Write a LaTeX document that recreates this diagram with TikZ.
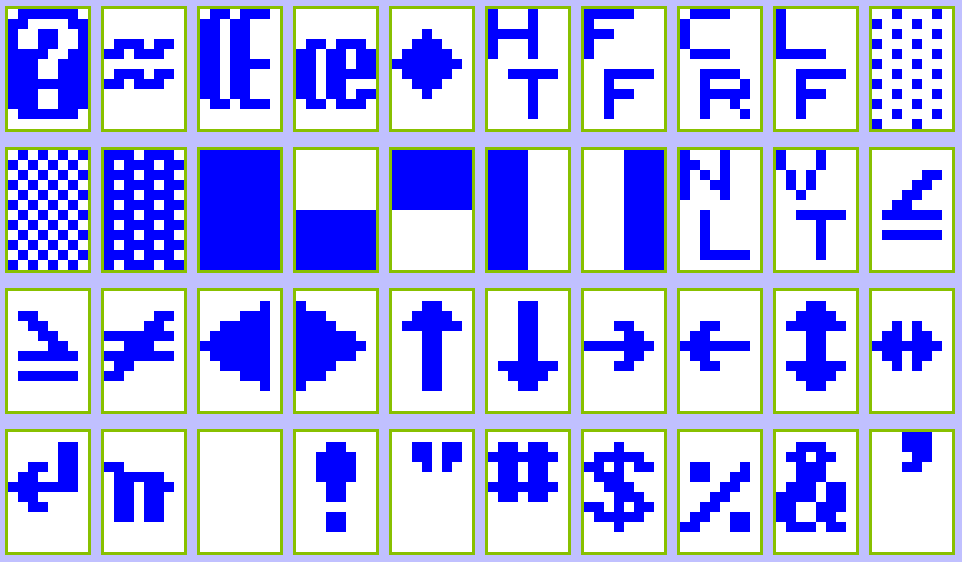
\documentclass[tikz,border=0pt]{standalone}
\definecolor{bgc}{HTML}{C0C0FF}
\definecolor{frm}{HTML}{88C000}
\definecolor{pixc}{HTML}{0000FF}
\newcount\gx \newcount\gy
\def\pixparse#1{\ifx#1\relax\else\ifnum#1=1 \fill[pixel] (\the\gx,\the\gy) rectangle ++(10,10);\fi\global\advance\gx by 10\relax\expandafter\pixparse\fi}
\newcommand\glyph[3]{%
  \fill[cellfill] ({8+96*#1},{9+141*#2}) rectangle ++(80,120);
  \draw[cellframe] ({8+96*#1-1.5},{9+141*#2-1.5}) rectangle ++(83,123);
  \foreach \s [count=\k from 0] in {#3}{%
    \global\gx=\numexpr 8+96*#1\relax
    \global\gy=\numexpr 9+141*#2+10*\k\relax
    \expandafter\pixparse\s\relax}}
\begin{document}
\begin{tikzpicture}[x=1pt,y=-1pt,
  pixel/.style={fill=pixc},
  cellfill/.style={fill=white},
  cellframe/.style={draw=frm,line width=3pt}]
\fill[bgc] (0,0) rectangle (962,562);
\useasboundingbox (0,0) rectangle (962,562);
% row 0
\glyph{0}{0}{01111110,11000011,10011001,10011001,11110011,11100111,11100111,11111111,11100111,11100111,01111110,0}
\glyph{1}{0}{0,0,0,01110110,11011100,0,01110110,11011100}
\glyph{2}{0}{01101110,11011,11011,11011,11011,1101111,11011,11011,11011,01101110}
\glyph{3}{0}{0,0,0,01101110,11011011,11011011,11011111,11011,11011011,01101110}
\glyph{4}{0}{0,0,0001,00111,011111,1111111,011111,00111,0001}
\glyph{5}{0}{10001,10001,11111,10001,10001,0,0011111,00001,00001,00001,00001}
\glyph{6}{0}{11111,1,111,1,1,0,0011111,001,00111,001,001}
\glyph{7}{0}{01111,1,1,1,01111,0,001111,0010001,0011111,001001,0010001}
\glyph{8}{0}{1,1,1,1,11111,0,0011111,001,00111,001,001}
\glyph{9}{0}{00100010,10001,00100010,10001,00100010,10001,00100010,10001,00100010,10001,00100010,10001}
% row 1
\glyph{0}{1}{01010101,10101010,01010101,10101010,01010101,10101010,01010101,10101010,01010101,10101010,01010101,10101010}
\glyph{1}{1}{11101110,10111011,11101110,10111011,11101110,10111011,11101110,10111011,11101110,10111011,11101110,10111011}
\glyph{2}{1}{11111111,11111111,11111111,11111111,11111111,11111111,11111111,11111111,11111111,11111111,11111111,11111111}
\glyph{3}{1}{0,0,0,0,0,0,11111111,11111111,11111111,11111111,11111111,11111111}
\glyph{4}{1}{11111111,11111111,11111111,11111111,11111111,11111111}
\glyph{5}{1}{1111,1111,1111,1111,1111,1111,1111,1111,1111,1111,1111,1111}
\glyph{6}{1}{00001111,00001111,00001111,00001111,00001111,00001111,00001111,00001111,00001111,00001111,00001111,00001111}
\glyph{7}{1}{10001,11001,10101,10011,10001,0,001,001,001,001,0011111}
\glyph{8}{1}{10001,10001,0101,0101,001,0,0011111,00001,00001,00001,00001}
\glyph{9}{1}{0,0,0000011,000011,00011,0011,0111111,0,0111111}
% row 2
\glyph{0}{2}{0,0,011,0011,00011,000011,0111111,0,0111111}
\glyph{1}{2}{0,0,0000011,000011,1111111,00111,1111111,011,11}
\glyph{2}{2}{0,0000001,0000111,0011111,0111111,1111111,0111111,0011111,0000111,0000001}
\glyph{3}{2}{0,1,111,1111,111111,1111111,111111,1111,111,1}
\glyph{4}{2}{0,00011,001111,0111111,00011,00011,00011,00011,00011,00011}
\glyph{5}{2}{0,00011,00011,00011,00011,00011,00011,0111111,001111,00011}
\glyph{6}{2}{0,0,0,00011,000011,1111111,000011,00011}
\glyph{7}{2}{0,0,0,0011,011,1111111,011,0011}
\glyph{8}{2}{0,00011,001111,0111111,00011,00011,00011,0111111,001111,00011}
\glyph{9}{2}{0,0,0,00101,011011,1111111,011011,00101}
% row 3
\glyph{0}{3}{0,0000011,0000011,0011011,0110011,1111111,011,0011}
\glyph{1}{3}{0,0,0,11,011111,0110111,011011,011011,011011}
\glyph{2}{3}{0}
\glyph{3}{3}{0,00011,001111,001111,001111,00011,00011,0,00011,00011}
\glyph{4}{3}{0,0011011,0011011,0001010}
\glyph{5}{3}{0,011011,1111111,011011,011011,1111111,011011}
\glyph{6}{3}{0,0001,011111,1101011,0111,00111,00011100,1101011,011111,0001}
\glyph{7}{3}{0,0,0,01100010,01100110,00001100,00011000,00110000,01100110,11000110}
\glyph{8}{3}{0,00111,011011,00111,00111,0111011,1111011,1100111,110011,0111011}
\glyph{9}{3}{00011100,00011100,00001100,00011000}
\end{tikzpicture}
\end{document}
